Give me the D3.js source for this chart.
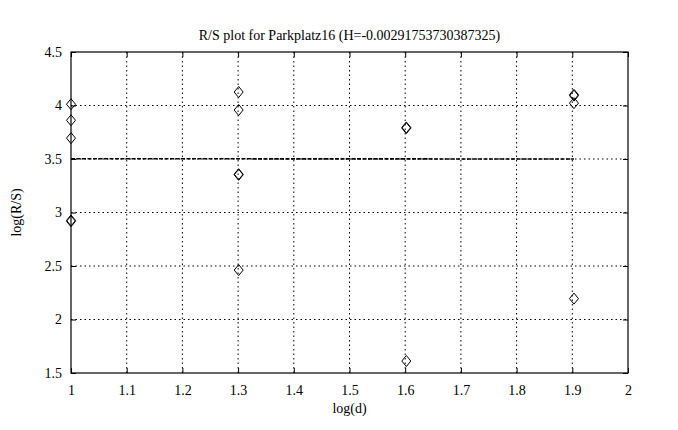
<!DOCTYPE html>
<html><head><meta charset="utf-8">
<script src="https://cdn.jsdelivr.net/npm/d3@7"></script>
<style>body{margin:0;background:#fff}svg{display:block}text{font-family:"Liberation Serif","Times New Roman",Times,"DejaVu Serif",serif !important;fill:#000}</style>
</head><body>
<svg id="c" width="678" height="430"></svg>
<script>
const titleText = "R/S plot for Parkplatz16 (H=-0.00291753730387325)";
const xTicks = [1,1.1,1.2,1.3,1.4,1.5,1.6,1.7,1.8,1.9,2];
const yTicks = [1.5,2,2.5,3,3.5,4,4.5];
const xTickLabels = ["1","1.1","1.2","1.3","1.4","1.5","1.6","1.7","1.8","1.9","2"];
const yTickLabels = ["1.5","2","2.5","3","3.5","4","4.5"];
const logD = [1,1,1,1,1, 1.301,1.301,1.301,1.301,1.301, 1.602,1.602,1.602, 1.903,1.903,1.903,1.903];
const logRS = [4.012,3.862,3.695,2.918,2.926, 4.126,3.958,3.352,3.358,2.462, 3.788,3.795,1.612, 4.092,4.100,4.022,2.195];
const fitH = -0.00291753730387325;
const fitC = 3.5055;
const fitX = [1,1.903];

const svg = d3.select("#c");
const L=71,R=628,T=52,B=373;
const x = d3.scaleLinear().domain([1,2]).range([L,R]);
const y = d3.scaleLinear().domain([1.5,4.5]).range([B,T]);

const g = svg.append("g");
g.selectAll(".vg").data(xTicks.slice(1,-1)).enter().append("line")
  .attr("x1",d=>x(d)).attr("x2",d=>x(d)).attr("y1",T).attr("y2",B)
  .attr("stroke","#000").attr("stroke-width",1).attr("stroke-dasharray","1.5,3");
g.selectAll(".hg").data(yTicks.slice(1,-1)).enter().append("line")
  .attr("y1",d=>y(d)).attr("y2",d=>y(d)).attr("x1",L).attr("x2",R)
  .attr("stroke","#000").attr("stroke-width",1).attr("stroke-dasharray","1.5,3");

const ax = svg.append("g");
ax.append("g").attr("transform",`translate(0,${B})`)
  .call(d3.axisBottom(x).tickValues(xTicks).tickSize(-5).tickPadding(12).tickFormat((d,i)=>xTickLabels[i]));
ax.append("g").attr("transform",`translate(0,${T})`)
  .call(d3.axisTop(x).tickValues(xTicks).tickSize(-5).tickFormat(""));
ax.append("g").attr("transform",`translate(${L},0)`)
  .call(d3.axisLeft(y).tickValues(yTicks).tickSize(-5).tickPadding(9).tickFormat((d,i)=>yTickLabels[i]));
ax.append("g").attr("transform",`translate(${R},0)`)
  .call(d3.axisRight(y).tickValues(yTicks).tickSize(-5).tickFormat(""));
ax.selectAll("g").attr("font-family",null);
ax.selectAll(".domain").remove();
ax.selectAll("line").attr("stroke","#000");
ax.selectAll("text").style("font-size","14px");
svg.append("rect").attr("x",L).attr("y",T).attr("width",R-L).attr("height",B-T)
  .attr("fill","none").attr("stroke","#000").attr("stroke-width",1.2);

svg.append("line")
  .attr("x1",x(fitX[0])).attr("x2",x(fitX[1]))
  .attr("y1",y(fitC+fitH*fitX[0])).attr("y2",y(fitC+fitH*fitX[1]))
  .attr("stroke","#000").attr("stroke-width",1.6).attr("stroke-dasharray","4,1.5");

const dia = "M0,-5.5L4.5,0L0,5.5L-4.5,0Z";
svg.selectAll(".pt").data(logD.map((d,i)=>[d,logRS[i]])).enter().append("path")
  .attr("d",dia).attr("transform",d=>`translate(${x(d[0])},${y(d[1])})`)
  .attr("fill","none").attr("stroke","#000").attr("stroke-width",1);

svg.append("text").attr("x",(L+R)/2).attr("y",40).attr("text-anchor","middle").style("font-size","14px").text(titleText);
svg.append("text").attr("x",(L+R)/2).attr("y",413).attr("text-anchor","middle").style("font-size","14px").text("log(d)");
svg.append("text").attr("transform",`translate(21,${(T+B)/2}) rotate(-90)`).attr("text-anchor","middle").style("font-size","14px").text("log(R/S)");
</script>
</body></html>
